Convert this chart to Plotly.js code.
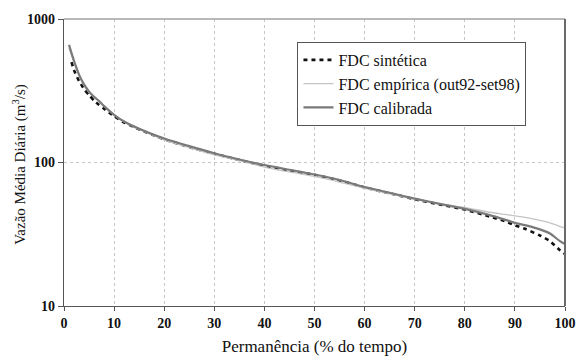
<!DOCTYPE html>
<html>
<head>
<meta charset="utf-8">
<script src="https://cdn.plot.ly/plotly-3.0.1.min.js"></script>
<style>
  html, body { margin: 0; padding: 0; background: #fff; }
  #chart { width: 578px; height: 358px; }
</style>
</head>
<body>
<div id="chart"></div>
<script>
// Permanence (% of time) and daily mean discharge (m³/s) for each flow-duration curve
const permSintetica = [1.5, 2, 3, 4, 5, 6, 7, 8, 10, 12, 15, 20, 25, 30, 35, 40, 45, 50, 55, 60, 65, 70, 75, 80, 85, 88, 90, 92, 95, 97, 99, 100];
const vazaoSintetica = [500, 440, 370, 325, 295, 270, 252, 237, 210, 190, 170, 145, 128, 115, 104, 95, 88, 82, 75, 67, 61, 55.5, 51, 47, 42, 39, 36.5, 34.5, 31, 28.3, 24.5, 23];

const permEmpirica = [1, 2, 3, 4, 5, 6, 7, 8, 10, 12, 15, 20, 25, 30, 35, 40, 45, 50, 55, 60, 65, 70, 75, 80, 85, 88, 90, 92, 95, 97, 99, 100];
const vazaoEmpirica = [630, 500, 405, 345, 308, 285, 268, 248, 214, 192, 170, 144, 127, 113, 103, 93, 86, 80, 73, 66, 60.5, 55.5, 51.5, 48.5, 45, 43.5, 42.5, 41.5, 39.5, 38, 35.8, 35];

const permCalibrada = [1, 2, 3, 4, 5, 6, 7, 8, 10, 12, 15, 20, 25, 30, 35, 40, 45, 50, 55, 60, 65, 70, 75, 80, 85, 88, 90, 92, 95, 97, 99, 100];
const vazaoCalibrada = [660, 510, 410, 350, 312, 287, 268, 247, 215, 193, 172, 147, 130, 116, 105, 96, 89, 82.5, 75.5, 67.5, 61.5, 56, 51.5, 47.5, 43, 40, 38, 36.6, 34.2, 32, 28.3, 27];

// Axis tick values
const xTicks = [0, 10, 20, 30, 40, 50, 60, 70, 80, 90, 100];
const yTicks = [10, 100, 1000];
const yTickLabels = ['10', '100', '1000'];

const serif = 'Liberation Serif, Times New Roman, serif';
const tickFont = { family: serif, size: 14, color: '#111', weight: 'bold' };

const traces = [
  {
    x: permSintetica, y: vazaoSintetica, name: 'FDC sintética',
    mode: 'lines', line: { color: '#111', width: 2.6, dash: '4px,4px', shape: 'spline', smoothing: 0.6 }
  },
  {
    x: permEmpirica, y: vazaoEmpirica, name: 'FDC empírica (out92-set98)',
    mode: 'lines', line: { color: '#c4c4c4', width: 1.3, shape: 'spline', smoothing: 0.6 }
  },
  {
    x: permCalibrada, y: vazaoCalibrada, name: 'FDC calibrada',
    mode: 'lines', line: { color: '#7a7a7a', width: 2.2, shape: 'spline', smoothing: 0.6 }
  }
];

const layout = {
  width: 578, height: 358,
  margin: { l: 64, r: 13, t: 19, b: 52 },
  paper_bgcolor: '#fff', plot_bgcolor: '#fff',
  font: { family: serif, size: 14, color: '#111' },
  showlegend: true,
  legend: {
    x: 0.466, y: 0.92, xanchor: 'left', yanchor: 'top',
    bgcolor: '#fff', bordercolor: '#555', borderwidth: 1,
    font: { family: serif, size: 16, color: '#111' },
    tracegroupgap: 0, itemwidth: 30
  },
  xaxis: {
    range: [0, 100], tickvals: xTicks, ticktext: xTicks.map(String),
    showgrid: true, gridcolor: '#c6c6c6', griddash: 'dot', gridwidth: 1,
    showline: true, linecolor: '#555', linewidth: 1.3,
    ticks: 'outside', ticklen: 4, tickcolor: '#555',
    zeroline: false,
    tickfont: tickFont,
    title: { text: 'Permanência (% do tempo)', font: { family: serif, size: 17, color: '#111' }, standoff: 10 }
  },
  yaxis: {
    type: 'log', range: [1, 3], tickvals: yTicks, ticktext: yTickLabels,
    showgrid: true, gridcolor: '#c6c6c6', griddash: 'dot', gridwidth: 1,
    showline: true, linecolor: '#555', linewidth: 1.3,
    ticks: 'outside', ticklen: 5, tickcolor: '#555',
    zeroline: false,
    tickfont: tickFont
  },
  annotations: [
    {
      text: 'Vazão Média Diária (m<sup>3</sup>/s)', textangle: -90,
      xref: 'paper', yref: 'paper', x: -0.088, y: 0.495,
      xanchor: 'center', yanchor: 'middle', showarrow: false,
      font: { family: serif, size: 15, color: '#111' }
    }
  ],
  shapes: [
    { type: 'line', xref: 'paper', yref: 'paper', x0: 0, x1: 1, y0: 1, y1: 1, line: { color: '#a0a0a0', width: 1.5 } },
    { type: 'line', xref: 'paper', yref: 'paper', x0: 1, x1: 1, y0: 0, y1: 1, line: { color: '#6a6a6a', width: 2 } }
  ]
};

Plotly.newPlot('chart', traces, layout, { displayModeBar: false, staticPlot: true });
</script>
</body>
</html>
